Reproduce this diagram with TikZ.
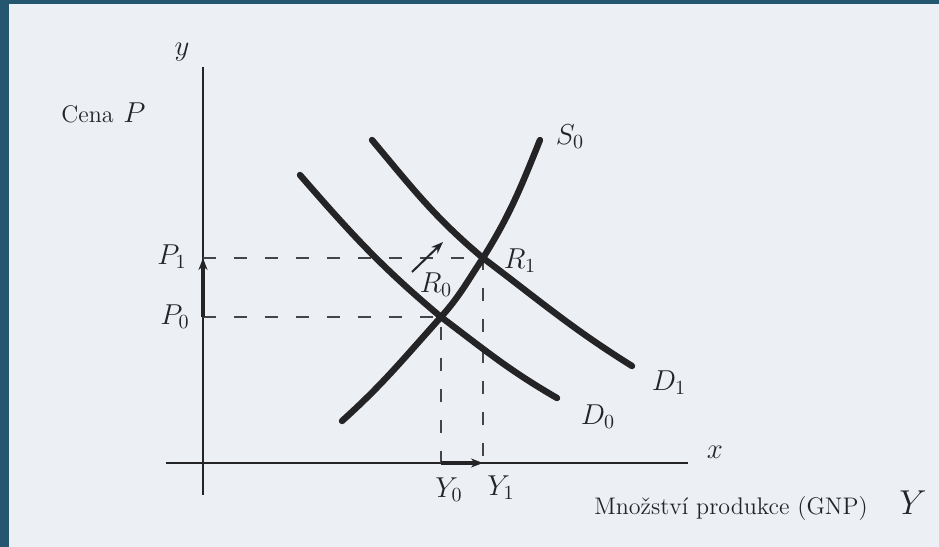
\documentclass[tikz,border=0pt]{standalone}
\usepackage{fontspec}
\usetikzlibrary{arrows.meta}
\definecolor{deska}{RGB}{37,86,112}
\definecolor{papir}{RGB}{236,239,244}
\definecolor{tus}{RGB}{36,36,38}

\begin{document}
\begin{tikzpicture}[x=0.5pt, y=0.5pt, >=Stealth,
	osa/.style={draw=tus, line width=1pt},
	krivka/.style={draw=tus, line width=3.2pt, line cap=round},
	vodici/.style={draw=tus!85, line width=1pt, dash pattern=on 6.5pt off 9pt},
	posun/.style={draw=tus, line width=1.6pt, -{Stealth[length=6pt,width=4.5pt]}},
	popis/.style={text=tus, inner sep=1pt, font=\fontsize{14.4}{17}\selectfont},
	napis/.style={text=tus, inner sep=1pt, font=\fontsize{12}{14}\selectfont}]

	% Pozadí
	\fill[deska] (0,0) rectangle (939,547);
	\fill[papir] (9,0) rectangle (939,543);
	\useasboundingbox (0,0) rectangle (939,547);

	% Body
	\coordinate (yt) at (203,480);
	\coordinate (yb) at (203,52);
	\coordinate (xl) at (166,84);
	\coordinate (xr) at (688,84);
	\coordinate (R0) at (441,230);
	\coordinate (R1) at (483,289);
	\coordinate (P0) at (203,230);
	\coordinate (P1) at (203,289);
	\coordinate (Y0) at (441,84);
	\coordinate (Y1) at (483,84);
	\coordinate (d0) at (412,275);
	\coordinate (d1) at (443,305);

	% Osy
	\draw[osa] (yb) -- (yt);
	\draw[osa] (xl) -- (xr);

	% Pomocné čáry
	\draw[vodici] (P0) -- (R0) -- (Y0);
	\draw[vodici] (P1) -- (R1) -- (Y1);

	% Posuny
	\draw[posun] (P0) -- (P1);
	\draw[posun] (Y0) -- (Y1);
	\draw[draw=tus, line width=1pt, -{Stealth[length=6pt,width=4.5pt]}] (d0) -- (d1);

	% Popisky
	\node[popis] (ly) at (182,495) {$y$};
	\node[napis, anchor=base east] (lcena) at (116,424) {Cena};
	\node[popis, anchor=base west] (lP) at (121,424) {$P$};
	\node[popis] (lP1) at (172,290) {$P_1$};
	\node[popis] (lP0) at (175,230) {$P_0$};
	\node[popis] (lR0) at (436,262) {$R_0$};
	\node[popis] (lR1) at (520,286) {$R_1$};
	\node[popis] (lS0) at (570,410) {$S_0$};
	\node[popis] (lD1) at (669,164) {$D_1$};
	\node[popis] (lD0) at (598,130) {$D_0$};
	\node[popis] (lx) at (715,95) {$x$};
	\node[popis] (lY0) at (449,57) {$Y_0$};
	\node[popis] (lY1) at (501,59) {$Y_1$};
	\node[napis, anchor=base] (lgnp) at (731,32) {Množství produkce (GNP)};
	\node[popis, anchor=base, font=\fontsize{17}{20}\selectfont] (lY) at (913,32) {$Y$};

	% Křivky
	\draw[krivka] (342,126) to[out=42,in=-132] (R0) to[out=48,in=-124] (R1) to[out=58,in=-112] (540,407);
	\draw[krivka] (300,372) to[out=-49,in=140] (R0) to[out=-37,in=150] (557,149);
	\draw[krivka] (372,407) to[out=-50,in=140] (R1) to[out=-37,in=148] (632,181);
\end{tikzpicture}
\end{document}
